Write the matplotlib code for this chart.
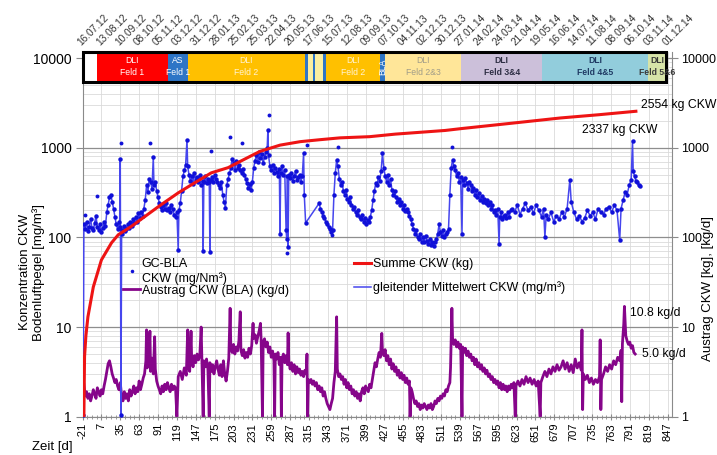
import matplotlib
matplotlib.use("Agg")
import matplotlib.pyplot as plt
from matplotlib.ticker import FixedLocator, NullFormatter, LogLocator, MultipleLocator
from matplotlib.transforms import blended_transform_factory
from matplotlib.patches import Rectangle

plt.rcParams['font.family'] = ['Liberation Sans', 'DejaVu Sans']

# ---------------- data ----------------
# cumulative removed mass, Summe CKW (kg)
sum_day = [-19, -18, -16, -13, -5, 7, 22, 32, 51, 71, 95, 121, 145, 170, 195, 213,
           242, 272, 302, 331, 361, 405, 443, 517, 542, 616, 688, 745, 800]
sum_kg = [1.0, 4.7, 8.0, 13, 28, 56, 87, 107, 132, 170, 230, 314, 405, 525, 600, 705,
          910, 1070, 1170, 1230, 1290, 1330, 1420, 1560, 1640, 1880, 2150, 2337, 2554]

# GC-BLA concentration CKW (mg/Nm3)
conc_day = [-20, -19, -17, -15, -13, -11, -9, -7, -5, -3, -1, 1, 3, 5, 7, 9, 11, 13, 15, 17,
            19, 21, 23, 25, 27, 29, 31, 33, 34, 35, 36, 37, 38, 40, 42, 44, 46, 48, 50, 52,
            54, 56, 58, 60, 62, 64, 66, 68, 70, 72, 74, 76, 78, 80, 82, 84, 85, 87, 89, 91,
            93, 95, 97, 99, 101, 103, 105, 107, 109, 111, 113, 115, 117, 119, 121, 122, 124, 126, 128, 130,
            132, 134, 135, 137, 139, 141, 143, 145, 147, 149, 151, 153, 155, 157, 158, 159, 161, 163, 165, 167,
            168, 169, 171, 173, 175, 177, 179, 181, 183, 185, 187, 189, 191, 193, 195, 197, 199, 201, 203, 205,
            207, 209, 211, 213, 215, 217, 219, 221, 223, 225, 227, 229, 231, 233, 235, 237, 239, 241, 243, 245,
            247, 249, 251, 253, 254, 255, 257, 259, 261, 263, 265, 267, 269, 271, 272, 273, 275, 277, 279, 281,
            282, 283, 284, 285, 287, 289, 291, 293, 295, 297, 299, 301, 303, 305, 307, 308, 310, 330, 332, 334,
            336, 338, 340, 342, 344, 346, 348, 350, 352, 354, 356, 358, 360, 362, 364, 366, 368, 370, 372, 374,
            376, 378, 380, 382, 384, 386, 388, 390, 392, 394, 396, 398, 400, 402, 404, 406, 408, 410, 412, 414,
            416, 418, 420, 422, 424, 426, 428, 430, 432, 434, 436, 438, 440, 442, 444, 446, 448, 450, 452, 454,
            456, 458, 460, 462, 464, 466, 468, 470, 472, 474, 476, 478, 480, 482, 484, 486, 488, 490, 492, 494,
            496, 498, 500, 502, 504, 506, 508, 510, 512, 514, 516, 518, 520, 522, 524, 526, 528, 530, 532, 534,
            536, 538, 540, 542, 543, 545, 547, 549, 551, 553, 555, 557, 559, 561, 563, 565, 567, 569, 571, 573,
            575, 577, 579, 581, 583, 585, 587, 589, 591, 593, 595, 597, 598, 600, 602, 604, 606, 608, 610, 612,
            614, 616, 620, 624, 628, 632, 636, 640, 644, 648, 652, 656, 660, 663, 665, 667, 670, 674, 678, 682,
            686, 690, 694, 698, 702, 704, 708, 712, 716, 720, 724, 728, 732, 736, 740, 744, 748, 752, 756, 760,
            764, 768, 772, 776, 778, 781, 784, 787, 790, 793, 795, 796, 798, 800, 802, 804, 806]
conc_val = [1.05, 140, 125, 150, 118, 132, 160, 128, 120, 145, 175, 130, 122, 140, 115, 128, 150, 135, 190, 230,
            280, 300, 250, 210, 170, 140, 125, 150, 130, 740, 1.05, 120, 110, 135, 118, 125, 140, 128, 150, 135,
            160, 145, 170, 150, 185, 165, 190, 175, 210, 260, 380, 320, 450, 420, 350, 780, 380, 420, 330, 280,
            240, 220, 200, 230, 210, 245, 200, 215, 190, 230, 205, 180, 170, 190, 72, 200, 240, 330, 480, 560,
            650, 1230, 620, 500, 430, 480, 390, 520, 440, 470, 410, 500, 380, 430, 70, 420, 480, 400, 450, 420,
            68, 440, 470, 410, 500, 450, 420, 380, 360, 420, 300, 250, 215, 380, 450, 520, 600, 750, 680, 560,
            720, 600, 640, 560, 520, 580, 500, 450, 400, 360, 390, 340, 420, 600, 720, 820, 700, 900, 760, 850,
            680, 780, 900, 1000, 1580, 820, 620, 560, 650, 520, 600, 540, 480, 580, 110, 520, 620, 500, 560, 120,
            95, 480, 78, 500, 460, 520, 430, 480, 550, 440, 470, 500, 420, 480, 870, 300, 145, 240, 210, 190,
            175, 165, 150, 140, 130, 125, 115, 120, 300, 520, 730, 620, 450, 380, 420, 330, 300, 340, 270, 250,
            280, 230, 210, 220, 190, 180, 200, 170, 160, 180, 150, 165, 140, 155, 148, 170, 200, 260, 330, 400,
            380, 470, 430, 550, 870, 600, 480, 420, 500, 380, 450, 340, 300, 330, 280, 250, 270, 230, 250, 210,
            230, 195, 210, 190, 175, 160, 140, 125, 110, 120, 100, 95, 110, 90, 100, 88, 105, 92, 85, 95,
            82, 90, 80, 88, 95, 110, 140, 115, 105, 120, 100, 110, 115, 125, 300, 600, 730, 620, 560, 480,
            520, 420, 470, 110, 440, 380, 460, 400, 350, 420, 380, 330, 360, 300, 340, 280, 310, 260, 290, 250,
            270, 240, 260, 230, 250, 210, 230, 190, 200, 180, 210, 85, 170, 190, 160, 175, 180, 165, 190, 170,
            200, 210, 190, 230, 180, 210, 240, 200, 220, 185, 230, 200, 170, 210, 100, 180, 160, 190, 150, 175,
            160, 190, 170, 210, 440, 250, 190, 160, 175, 150, 165, 200, 175, 190, 160, 210, 190, 180, 210, 220,
            190, 230, 200, 93, 210, 260, 320, 300, 380, 440, 1200, 550, 480, 430, 410, 380, 370]

# isolated GC-BLA readings
single_day = [-18, 0, 36, 79, 169, 198, 215, 256, 282, 312, 349, 358, 527]
single_val = [178, 290, 1140, 1120, 910, 1330, 1140, 2340, 67, 1080, 106, 1030, 1030]

# Austrag CKW (BLA) (kg/d)
out_day = [-19, -17, -15, -13, -11, -9, -7, -5, -3, -1, 1, 3, 5, 7, 9, 11, 13, 15, 17, 19,
           21, 23, 25, 27, 29, 31, 33, 35, 37, 39, 41, 43, 45, 47, 49, 51, 53, 55, 57, 59,
           61, 63, 65, 67, 69, 71, 73, 74, 75, 77, 79, 80, 82, 84, 86, 87, 89, 91, 93, 95,
           97, 99, 101, 103, 105, 107, 109, 111, 113, 115, 117, 119, 121, 124, 127, 130, 133, 135, 136, 138,
           140, 141, 143, 145, 147, 149, 151, 153, 155, 156, 158, 159, 161, 163, 165, 167, 168, 170, 172, 174,
           176, 178, 180, 182, 184, 186, 188, 190, 192, 194, 196, 198, 199, 201, 203, 205, 207, 209, 211, 213,
           214, 216, 218, 220, 222, 224, 226, 228, 230, 232, 233, 235, 237, 239, 241, 243, 244, 246, 247, 249,
           251, 253, 255, 257, 259, 261, 263, 264, 265, 267, 269, 271, 273, 274, 275, 277, 279, 281, 283, 284,
           285, 287, 289, 291, 293, 295, 297, 299, 301, 303, 305, 307, 309, 311, 312, 313, 314, 316, 318, 320,
           322, 324, 326, 328, 330, 332, 334, 336, 338, 340, 342, 344, 346, 348, 350, 352, 354, 356, 357, 359,
           361, 363, 365, 367, 369, 371, 373, 375, 377, 379, 381, 383, 385, 387, 389, 391, 393, 395, 397, 399,
           401, 403, 405, 407, 409, 411, 413, 415, 417, 419, 421, 423, 424, 426, 428, 430, 432, 434, 436, 438,
           440, 442, 444, 446, 448, 450, 452, 454, 456, 458, 460, 462, 464, 465, 466, 468, 470, 472, 474, 476,
           478, 480, 482, 484, 486, 488, 490, 492, 494, 496, 498, 500, 502, 504, 506, 508, 510, 512, 514, 516,
           518, 520, 522, 524, 525, 527, 528, 530, 532, 534, 536, 538, 540, 542, 543, 545, 547, 549, 551, 553,
           555, 557, 559, 561, 563, 565, 567, 569, 571, 573, 575, 577, 579, 581, 583, 585, 587, 589, 591, 593,
           595, 597, 599, 601, 603, 605, 607, 609, 611, 613, 615, 617, 619, 621, 622, 625, 628, 631, 634, 637,
           640, 643, 646, 649, 652, 655, 658, 659, 662, 665, 668, 671, 674, 677, 680, 683, 686, 689, 692, 695,
           698, 701, 704, 707, 710, 713, 716, 719, 720, 721, 722, 725, 728, 731, 734, 737, 740, 743, 746, 747,
           748, 749, 752, 755, 758, 761, 764, 767, 770, 773, 776, 778, 779, 780, 782, 783, 785, 787, 789, 791,
           793, 795, 797, 799]
out_val = [2.3, 1.7, 1.9, 1.6, 1.8, 1.5, 1.7, 2.0, 1.8, 1.6, 2.1, 1.9, 1.7, 2.0, 1.8, 2.2, 2.6, 3.2, 3.9, 4.2,
           3.6, 3.0, 2.7, 2.4, 2.6, 2.2, 2.0, 2.4, 1.7, 1.5, 1.9, 1.6, 1.8, 1.5, 2.0, 1.7, 1.9, 2.2, 1.8, 2.1,
           1.9, 2.5, 2.0, 2.3, 2.7, 3.0, 4.2, 9.3, 3.5, 4.0, 9.0, 3.2, 4.5, 3.0, 7.8, 3.4, 2.5, 2.2, 2.0, 1.8,
           2.2, 1.9, 2.3, 2.0, 2.4, 2.1, 1.9, 2.3, 2.0, 2.2, 2.1, 1.0, 2.8, 3.2, 2.6, 3.5, 2.9, 9.3, 3.8, 3.2,
           9.0, 4.2, 3.6, 4.8, 4.0, 5.0, 4.3, 4.8, 10.0, 4.6, 1.0, 4.2, 3.6, 4.4, 3.4, 1.0, 4.0, 3.2, 3.8, 3.0,
           3.6, 4.2, 3.4, 2.9, 3.8, 2.8, 4.2, 3.0, 2.5, 3.2, 4.5, 16.2, 6.0, 5.2, 6.4, 5.0, 6.0, 5.4, 7.0, 14.8,
           5.5, 4.8, 5.6, 4.5, 5.2, 4.6, 5.8, 5.0, 6.2, 11.0, 7.5, 8.2, 6.6, 7.8, 9.0, 11.0, 7.2, 1.0, 6.8, 7.4,
           6.0, 6.8, 5.2, 6.0, 4.6, 5.4, 4.2, 1.0, 5.0, 4.4, 5.2, 3.8, 4.6, 1.0, 4.4, 5.0, 4.0, 4.8, 3.8, 8.6,
           4.2, 3.4, 4.0, 3.2, 3.8, 3.0, 3.6, 3.1, 3.4, 2.9, 3.2, 2.8, 3.3, 3.0, 5.0, 1.0, 2.6, 2.4, 2.6, 2.3,
           2.5, 2.2, 2.4, 2.0, 2.2, 1.9, 2.1, 1.7, 1.9, 1.6, 1.4, 1.3, 1.2, 1.4, 1.6, 2.4, 3.2, 13.0, 3.4, 2.8,
           3.0, 2.6, 2.8, 2.3, 2.6, 2.1, 2.4, 2.0, 2.2, 1.8, 2.0, 1.7, 1.9, 1.6, 1.8, 1.5, 1.9, 2.1, 1.8, 2.2,
           2.0, 1.9, 2.3, 2.1, 2.6, 3.2, 4.0, 3.6, 4.4, 5.2, 4.6, 8.5, 5.4, 4.8, 5.6, 4.2, 4.8, 3.8, 4.4, 3.4,
           3.9, 3.2, 3.6, 2.9, 3.3, 2.7, 3.1, 2.6, 2.9, 2.4, 2.7, 2.3, 2.5, 1.0, 2.1, 1.9, 1.6, 1.4, 1.5, 1.3,
           1.4, 1.2, 1.35, 1.25, 1.4, 1.3, 1.2, 1.35, 1.25, 1.4, 1.2, 1.3, 1.5, 1.4, 1.6, 1.5, 1.7, 1.6, 1.8, 1.7,
           2.0, 1.9, 2.2, 2.4, 3.5, 16.2, 7.5, 6.4, 7.2, 6.0, 6.8, 5.8, 6.4, 1.0, 6.0, 5.2, 5.8, 4.8, 5.4, 4.6,
           5.0, 4.2, 4.6, 3.8, 4.4, 3.6, 4.0, 3.4, 3.8, 3.2, 3.5, 3.0, 3.3, 2.8, 3.0, 2.6, 2.8, 2.4, 2.6, 2.3,
           2.5, 2.1, 2.4, 2.0, 2.3, 2.0, 2.2, 1.9, 2.2, 2.0, 2.3, 2.1, 2.4, 1.0, 2.2, 2.5, 2.2, 2.6, 2.3, 2.8,
           2.4, 2.7, 2.3, 2.6, 2.2, 2.5, 1.0, 2.4, 2.8, 3.2, 2.8, 3.4, 3.0, 3.6, 3.2, 3.8, 3.3, 3.6, 4.2, 3.4,
           4.0, 3.2, 3.8, 3.1, 4.4, 3.5, 4.0, 3.3, 9.3, 1.2, 3.0, 2.6, 2.9, 2.4, 2.7, 2.3, 2.6, 2.4, 2.8, 7.2,
           1.2, 2.6, 3.0, 3.6, 3.2, 3.8, 3.4, 4.2, 3.8, 4.6, 4.2, 5.5, 1.47, 6.5, 10.8, 17.0, 8.0, 7.0, 6.4, 6.8,
           5.8, 6.2, 5.2, 5.0]

# axis ticks and labels
x_ticks = list(range(-21, 848, 28))
date_labels = ['16.07.12', '13.08.12', '10.09.12', '08.10.12', '05.11.12', '03.12.12', '31.12.12',
               '28.01.13', '25.02.13', '25.03.13', '22.04.13', '20.05.13', '17.06.13', '15.07.13',
               '12.08.13', '09.09.13', '07.10.13', '04.11.13', '02.12.13', '30.12.13', '27.01.14',
               '24.02.14', '24.03.14', '21.04.14', '19.05.14', '16.06.14', '14.07.14', '11.08.14',
               '08.09.14', '06.10.14', '03.11.14', '01.12.14']
y_ticks = [1, 10, 100, 1000, 10000]
y_labels = ['1', '10', '100', '1000', '10000']

# operating phases (band above the plot)
phase_start = [-21, 0, 106, 135, 309, 313.5, 321, 324, 336, 340, 420, 428, 541, 661, 818]
phase_end = [0, 106, 135, 309, 313.5, 321, 324, 336, 340, 420, 428, 541, 661, 818, 845]
phase_color = ['#ffffff', '#ff0000', '#2e75c6', '#ffc000', '#2e75c6', '#fbeea0', '#2e75c6',
               '#fbeea0', '#2e75c6', '#ffc000', '#2e75c6', '#ffe699', '#ccc0da', '#92cddc', '#d7e4a8']
phase_text = ['', 'DLI\nFeld 1', 'AS\nFeld 1', 'DLI\nFeld 2', '', '', '', '', '', 'DLI\nFeld 2',
              'BLA', 'DLI\nFeld 2&3', 'DLI\nFeld 3&4', 'DLI\nFeld 4&5', 'DLI\nFeld 5&6']
phase_text_color = ['k', 'white', 'white', '#fff4d6', 'k', 'k', 'k', 'k', 'k', '#fff4d6',
                    'white', '#a09c88', '#2e2e44', '#1f3a64', '#3a3a3a']
phase_text_bold = [False, False, False, False, False, False, False, False, False, False,
                   False, False, True, True, True]

# ---------------- figure ----------------
BLUE = '#1010d8'
BLUE_LINE = '#4646ee'
PURPLE = '#86058a'
RED = '#ee1414'
GRID_MAJOR = '#8e8e8e'
GRID_MINOR = '#dadada'
SPINE = '#8a8a8a'

fig = plt.figure(figsize=(7.17, 4.55), dpi=100)
ax = fig.add_axes([0.1151, 0.0842, 0.8216, 0.8022])
ax.set_yscale('log')
ax.set_xlim(-21, 853)
ax.set_ylim(1, 11800)

ax.set_axisbelow(True)
ax.yaxis.set_major_locator(FixedLocator(y_ticks))
ax.set_yticklabels(y_labels)
ax.yaxis.set_minor_locator(LogLocator(base=10, subs=range(2, 10)))
ax.yaxis.set_minor_formatter(NullFormatter())
ax.xaxis.set_major_locator(FixedLocator(x_ticks))
ax.set_xticklabels([str(t) for t in x_ticks])
ax.xaxis.set_minor_locator(MultipleLocator(7))
ax.grid(True, axis='y', which='major', color=GRID_MAJOR, lw=0.9)
ax.grid(True, axis='y', which='minor', color=GRID_MINOR, lw=0.6)
ax.grid(True, axis='x', which='major', color=GRID_MINOR, lw=0.6)

ax.tick_params(axis='x', which='major', direction='inout', length=5, color=SPINE,
               labelsize=8, labelrotation=90, pad=2)
ax.tick_params(axis='x', which='minor', direction='inout', length=3, color=SPINE)
ax.tick_params(axis='y', which='major', direction='out', length=5, color=SPINE,
               labelsize=10, pad=3)
ax.tick_params(axis='y', which='minor', length=0)
for side in ('left', 'right', 'bottom'):
    ax.spines[side].set_color(SPINE)
ax.spines['top'].set_visible(False)

# data series
l_out, = ax.plot(out_day, out_val, color=PURPLE, lw=2.0, zorder=2,
                 label='Austrag CKW (BLA) (kg/d)')
l_avg, = ax.plot(conc_day, conc_val, color=BLUE_LINE, lw=1.1, zorder=3,
                 label='gleitender Mittelwert CKW (mg/m³)')
l_pts, = ax.plot(conc_day, conc_val, ls='none', marker='o', ms=3.2, mew=0,
                 color=BLUE, zorder=4, label='GC-BLA\nCKW (mg/Nm³)')
ax.plot(single_day, single_val, ls='none', marker='o', ms=2.8, mew=0, color=BLUE, zorder=4)
l_sum, = ax.plot(sum_day, sum_kg, color=RED, lw=2.2, zorder=5, label='Summe CKW (kg)')

# value labels
ax.annotate(f'{sum_kg[-1]:.0f} kg CKW', xy=(sum_day[-1], sum_kg[-1]), xytext=(5, 6),
            textcoords='offset pixels', ha='left', va='center', fontsize=8.8)
ax.annotate(f'{sum_kg[-2]:.0f} kg CKW', xy=(sum_day[-2], sum_kg[-2]), xytext=(-17, -15),
            textcoords='offset pixels', ha='left', va='center', fontsize=8.8)
i_peak = out_day.index(782)
ax.annotate(f'{out_val[i_peak]:.1f} kg/d', xy=(out_day[i_peak], out_val[i_peak]),
            xytext=(6, 11), textcoords='offset pixels', ha='left', va='center', fontsize=8.8)
ax.annotate(f'{out_val[-1]:.1f} kg/d', xy=(out_day[-1], out_val[-1]), xytext=(7, 0),
            textcoords='offset pixels', ha='left', va='center', fontsize=8.8)

# legend in two columns
leg1 = ax.legend([l_pts, l_out], [l_pts.get_label(), l_out.get_label()], frameon=False,
                 fontsize=9, loc='upper left', bbox_to_anchor=(0.058, 0.452),
                 handlelength=1.4, handletextpad=0.1, labelspacing=0.0, borderpad=0,
                 markerscale=0.8)
ax.add_artist(leg1)
ax.legend([l_sum, l_avg], [l_sum.get_label(), l_avg.get_label()], frameon=False,
          fontsize=9, loc='upper left', bbox_to_anchor=(0.45, 0.452),
          handlelength=1.4, handletextpad=0.1, labelspacing=0.9, borderpad=0)

# phase band
band = blended_transform_factory(ax.transData, ax.transAxes)
b_lo, b_hi = 0.918, 1.0
for s, e, c, t, tc, bold in zip(phase_start, phase_end, phase_color, phase_text,
                                 phase_text_color, phase_text_bold):
    ax.axvspan(s, e, ymin=b_lo, ymax=b_hi, color=c, lw=0, zorder=6)
    if t:
        rot = 90 if t == 'BLA' else 0
        ax.text((s + e) / 2, (b_lo + b_hi) / 2, t, transform=band, ha='center', va='center',
                fontsize=6.2, color=tc, rotation=rot, linespacing=1.5,
                fontweight='bold' if bold else 'normal', zorder=8)
ax.add_patch(Rectangle((phase_start[0], b_lo), phase_end[-1] - phase_start[0], b_hi - b_lo,
                       transform=band, fill=False, ec='black', lw=2.2, zorder=7, clip_on=False))

# calendar dates on top
for t, lab in zip(x_ticks, date_labels):
    ax.text(t, 1.013, lab, transform=band, rotation=45, rotation_mode='anchor',
            ha='left', va='bottom', fontsize=7.3, color='#333333', clip_on=False)

# right axis
ax2 = ax.twinx()
ax2.set_yscale('log')
ax2.set_ylim(ax.get_ylim())
ax2.yaxis.set_major_locator(FixedLocator(y_ticks))
ax2.set_yticklabels(y_labels)
ax2.yaxis.set_minor_locator(FixedLocator([]))
ax2.tick_params(axis='y', which='major', direction='out', length=4, color=SPINE,
                labelsize=9, pad=2.5)
for side in ('left', 'right', 'bottom', 'top'):
    ax2.spines[side].set_visible(False)

# axis titles
fig.text(0.045, 0.402, 'Konzentration CKW\nBodenluftpegel [mg/m³]', rotation=90,
         ha='center', va='center', fontsize=9.5, multialignment='center', linespacing=1.15)
fig.text(0.988, 0.367, 'Austrag CKW [kg], [kg/d]', rotation=90, ha='center', va='center',
         fontsize=9.5)
fig.text(0.073, 0.018, 'Zeit [d]', ha='center', va='center', fontsize=9.5)

fig.savefig('out.png', dpi=100)
